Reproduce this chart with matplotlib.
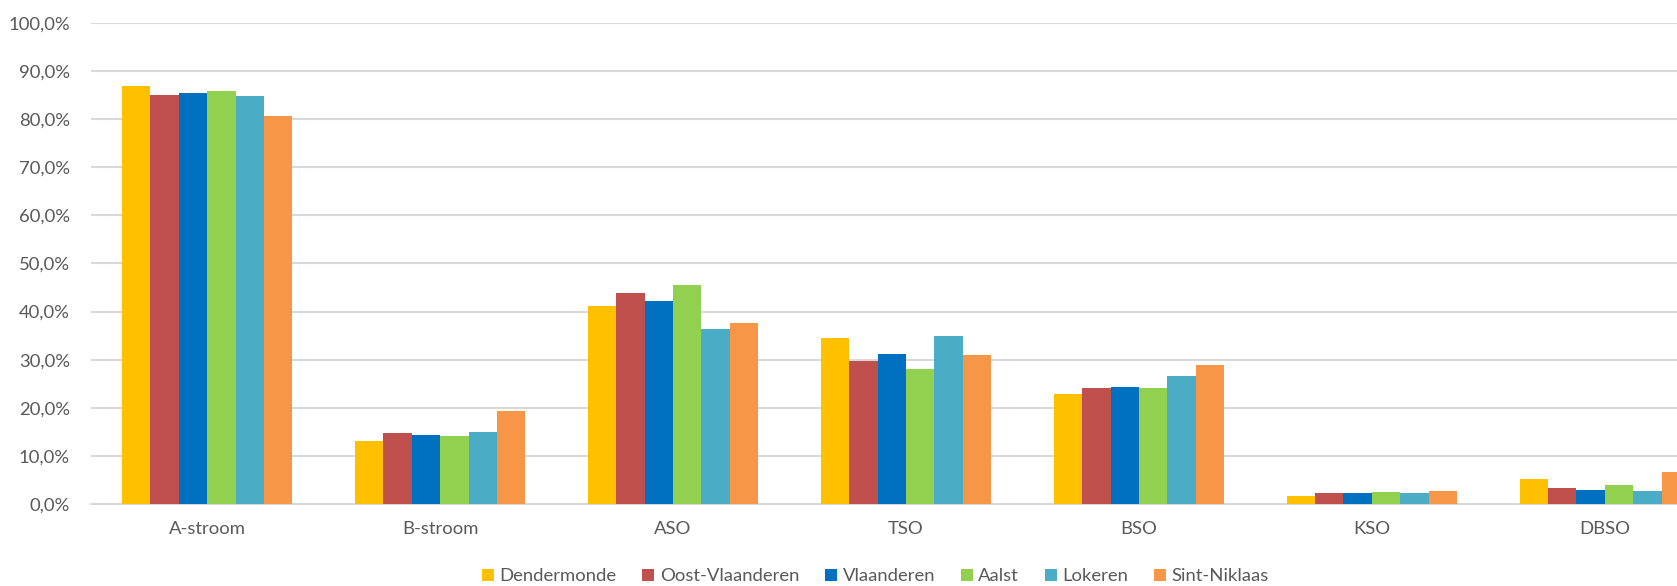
import numpy as np
import matplotlib
matplotlib.use("Agg")
import matplotlib.pyplot as plt
from matplotlib.ticker import FuncFormatter

plt.rcParams['font.family'] = ['Lato', 'DejaVu Sans']

# Data (percent)
categories = ['A-stroom', 'B-stroom', 'ASO', 'TSO', 'BSO', 'KSO', 'DBSO']
regions = ['Dendermonde', 'Oost-Vlaanderen', 'Vlaanderen', 'Aalst', 'Lokeren', 'Sint-Niklaas']

dendermonde     = [86.9, 13.0, 41.1, 34.4, 22.8, 1.7, 5.1]
oost_vlaanderen = [85.1, 14.7, 43.8, 29.8, 24.2, 2.2, 3.3]
vlaanderen      = [85.5, 14.3, 42.2, 31.1, 24.4, 2.2, 3.0]
aalst           = [85.8, 14.1, 45.5, 28.0, 24.2, 2.4, 3.9]
lokeren         = [84.9, 15.0, 36.4, 34.9, 26.7, 2.2, 2.6]
sint_niklaas    = [80.6, 19.3, 37.7, 30.9, 28.9, 2.6, 6.7]

series = [dendermonde, oost_vlaanderen, vlaanderen, aalst, lokeren, sint_niklaas]
colours = ['#FFC000', '#C0504D', '#0070C0', '#92D050', '#4BACC6', '#F79646']

fig = plt.figure(figsize=(16.77, 5.86), dpi=100)
ax = fig.add_axes([0.0541, 0.140, 0.9459, 0.8208])

x = np.arange(len(categories))
bar_w = 0.122
for i, (vals, name, col) in enumerate(zip(series, regions, colours)):
    ax.bar(x + (i - 2.5) * bar_w, vals, width=bar_w, color=col, label=name, zorder=3)

ax.set_xlim(-0.5, 6.31)
ax.set_ylim(0, 100)
ax.set_yticks(np.arange(0, 101, 10))
ax.yaxis.set_major_formatter(FuncFormatter(lambda v, p: f"{v:.1f}%".replace('.', ',')))
ax.set_xticks(x)
ax.set_xticklabels(categories)

# Gridlines and axis styling
ax.grid(axis='y', color='#d9d9d9', linewidth=1.5, zorder=0)
for s in ['top', 'right', 'left']:
    ax.spines[s].set_visible(False)
ax.spines['bottom'].set_color('#d9d9d9')
ax.spines['bottom'].set_linewidth(1.5)
ax.tick_params(axis='both', length=0, labelsize=13.3, labelcolor='#595959')
ax.tick_params(axis='y', pad=15)
ax.tick_params(axis='x', pad=12)

fig.legend(loc='center', bbox_to_anchor=(0.522, 0.0165), ncol=6, frameon=False,
           fontsize=13.3, labelcolor='#595959', handlelength=0.65, handleheight=0.65,
           handletextpad=0.3, columnspacing=1.4)

fig.savefig('out.png', dpi=100)
